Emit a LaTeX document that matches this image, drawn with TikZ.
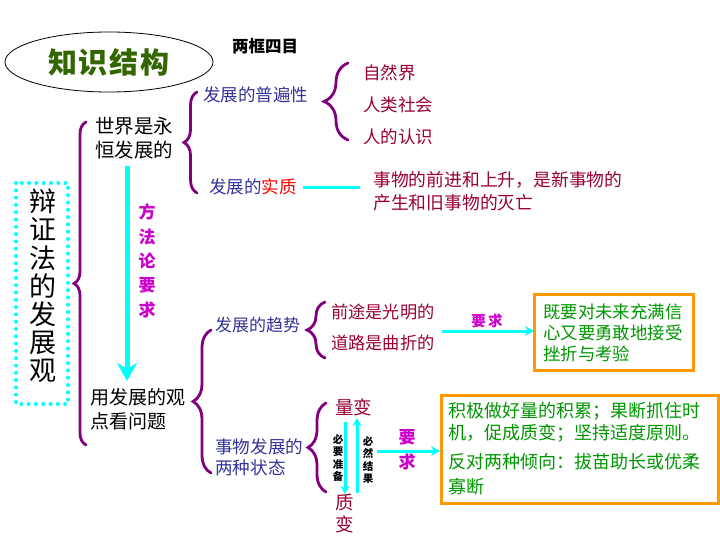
\documentclass[tikz,border=0pt]{standalone}
\usepackage{fontspec}
\setmainfont{Noto Sans CJK SC}
\usetikzlibrary{decorations.pathreplacing,arrows.meta,shapes.geometric}
\definecolor{cblue}{RGB}{51,51,153}
\definecolor{ccrim}{RGB}{153,0,51}
\definecolor{cred}{RGB}{255,0,0}
\definecolor{cgreen}{RGB}{0,150,0}
\definecolor{cmag}{RGB}{204,0,204}
\definecolor{cpurp}{RGB}{128,0,128}
\definecolor{ccyan}{RGB}{0,255,255}
\definecolor{corange}{RGB}{255,153,0}
\definecolor{ctitle}{RGB}{51,102,0}
\newcommand{\fs}[2]{\fontsize{#1}{#2}\selectfont}
\tikzset{
  lbl/.style={anchor=west, inner sep=0pt, align=left},
  bluetxt/.style={lbl, text=cblue, font=\fs{17.5}{22}},
  crimtxt/.style={lbl, text=ccrim, font=\fs{17.5}{22}},
  greentxt/.style={lbl, text=cgreen, font=\fs{17.5}{21.5}},
  blacktxt/.style={lbl, text=black, font=\fs{19.5}{24}},
  vert/.style={inner sep=0pt, align=center},
  brc/.style={draw=cpurp, line width=2.8pt, line cap=round, decorate,
    decoration={brace, amplitude=#1}},
  cyanline/.style={draw=ccyan, line width=3pt},
  cyanarrow/.style={draw=ccyan, line width=3pt, -{Stealth[length=9pt,width=10pt]}},
  obox/.style={draw=corange, line width=3pt},
}
\begin{document}
\begin{tikzpicture}[x=1pt,y=-1pt]
\useasboundingbox (0,0) rectangle (720,540);
% title
\node[ellipse, draw, line width=0.8pt, minimum width=208pt, minimum height=60pt, inner sep=0pt,
  text=ctitle, font=\fs{29}{29}\bfseries] (title) at (109,62) {知\hspace{2pt}识\hspace{2pt}结\hspace{2pt}构};
\node[lbl, font=\fs{16.5}{16.5}\bfseries] (lkmm) at (232,46) {两框四目};
% left dotted box
\draw[ccyan, line width=4pt, line cap=round, dash pattern=on 0pt off 7.3pt] (16,183) rectangle (68,404);
\node[vert, font=\fs{27}{28.2}] (main) at (43,286) {辩\\证\\法\\的\\发\\展\\观};
% big brace
\draw[brc=12] (86,445) -- (86,122);
% level 1 texts
\node[blacktxt] (world) at (95,138) {世界是永\\恒发展的};
\node[blacktxt, font=\fs{19}{24}] (view) at (90,409) {用发展的观\\点看问题};
\coordinate (arrS) at (127,166);
\coordinate (arrE) at (127,381);
\draw[draw=ccyan, line width=5pt, -{Stealth[length=18pt,width=20pt]}] (arrS) -- (arrE);
\node[vert, text=cmag, font=\fs{17}{24.3}\bfseries] (method) at (147,261) {方\\法\\论\\要\\求};
% upper level 2
\draw[brc=13] (197,193) -- (197,92);
\node[bluetxt] (univ) at (203,95) {发展的普遍性};
\draw[brc=24] (348,140) -- (348,63);
\node[crimtxt] (nat) at (363,73) {自然界};
\node[crimtxt] (soc) at (363,105) {人类社会};
\node[crimtxt] (cog) at (363,137) {人的认识};
\node[lbl, font=\fs{17.5}{22}] (ess) at (209,187) {\textcolor{cblue}{发展的}\textcolor{cred}{实质}};
\coordinate (essA) at (303,188);
\coordinate (essB) at (360,188);
\draw[cyanline] (essA) -- (essB);
\node[crimtxt, font=\fs{17.8}{22.5}] (essT) at (373,191.5) {事物的前进和上升，是新事物的\\产生和旧事物的灭亡};
% lower level 2
\draw[brc=18] (211,473) -- (211,330);
\node[bluetxt, font=\fs{17}{22}] (trend) at (215,325) {发展的趋势};
\draw[brc=18] (325,358) -- (325,302);
\node[crimtxt, font=\fs{17.2}{22}] (bright) at (331,312) {前途是光明的};
\node[crimtxt, font=\fs{17.2}{22}] (twist) at (331,343) {道路是曲折的};
\node[text=cmag, font=\fs{14.5}{14.5}\bfseries, inner sep=0pt] (req1) at (487,321) {要\,求};
\coordinate (r1A) at (442,331);
\coordinate (r1B) at (534,331);
\draw[cyanarrow] (r1A) -- (r1B);
\draw[obox] (534,294) rectangle (693,370);
\node[greentxt, font=\fs{17.4}{21.3}] (box1) at (543,333) {既要对未来充满信\\心又要勇敢地接受\\挫折与考验};
\node[bluetxt, font=\fs{17.6}{21}] (states) at (215,457) {事物发展的\\两种状态};
\draw[brc=18] (326,492) -- (326,403);
\node[crimtxt, font=\fs{18.5}{18.5}] (quant) at (335,407) {量变};
\node[vert, text=ccrim, font=\fs{18.5}{22}] (qual) at (345,514) {质\\变};
\coordinate (dA) at (345,422);
\coordinate (dB) at (345,494);
\coordinate (uA) at (357,493);
\coordinate (uB) at (357,418);
\draw[cyanarrow, -{Stealth[length=8pt,width=9pt]}] (dA) -- (dB);
\draw[cyanarrow, -{Stealth[length=8pt,width=9pt]}] (uA) -- (uB);
\node[vert, font=\fs{10.5}{12.3}\bfseries] (prep) at (338,458) {必\\要\\准\\备};
\node[vert, font=\fs{10.5}{12.3}\bfseries] (result) at (368,460) {必\\然\\结\\果};
\node[vert, text=cmag, font=\fs{17}{25}\bfseries] (req2) at (407,450) {要\\求};
\coordinate (r2A) at (377,451);
\coordinate (r2B) at (440,451);
\draw[cyanarrow] (r2A) -- (r2B);
\draw[obox] (441,395) rectangle (718,503);
\node[greentxt, font=\fs{18}{22}] (box2a) at (448,422.5) {积极做好量的积累；果断抓住时\\机，促成质变；坚持适度原则。};
\node[greentxt, font=\fs{18}{25}] (box2b) at (448,474.5) {反对两种倾向：拔苗助长或优柔\\寡断};
\end{tikzpicture}
\end{document}
